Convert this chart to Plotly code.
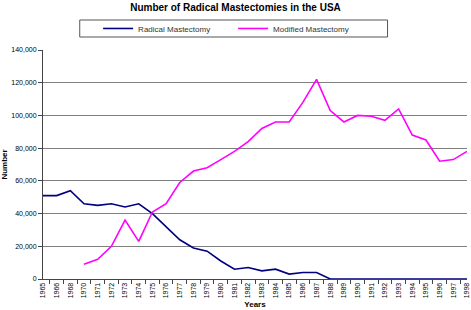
import plotly.graph_objects as go

years = ["1965", "1966", "1968", "1970", "1971", "1972", "1973", "1974", "1975", "1976",
         "1977", "1978", "1979", "1980", "1981", "1982", "1983", "1984", "1985", "1986",
         "1987", "1988", "1989", "1990", "1991", "1992", "1993", "1994", "1995", "1996",
         "1997", "1998"]

radical = [51000, 51000, 54000, 46000, 45000, 46000, 44000, 46000, 40000, 32000,
           24000, 19000, 17000, 11000, 6000, 7000, 5000, 6000, 3000, 4000,
           4000, 0, 0, 0, 0, 0, 0, 0, 0, 0,
           0, 0]

modified = [None, None, None, 9000, 12000, 20000, 36000, 23000, 41000, 46000,
            59000, 66000, 68000, 73000, 78000, 84000, 92000, 96000, 96000, 108000,
            122000, 103000, 96000, 100000, 99500, 97000, 104000, 88000, 85000, 72000,
            73000, 78000]

y_ticks = [0, 20000, 40000, 60000, 80000, 100000, 120000, 140000]

FONT = "Liberation Sans, Arial, sans-serif"

fig = go.Figure()
fig.add_trace(go.Scatter(x=years, y=radical, mode="lines", name="Radical Mastectomy",
                         line=dict(color="#000080", width=1.6)))
fig.add_trace(go.Scatter(x=years, y=modified, mode="lines", name="Modified Mastectomy",
                         line=dict(color="#FF00FF", width=1.6), connectgaps=False))

fig.update_layout(
    width=471, height=310,
    margin=dict(l=43, r=1, t=50, b=31),
    paper_bgcolor="white", plot_bgcolor="white",
    font=dict(family=FONT, color="#000000", size=7),
    title=dict(text="<b>Number of Radical Mastectomies in the USA</b>",
               font=dict(size=10, family=FONT), x=0.5, xanchor="center",
               y=0.975, yanchor="middle"),
    showlegend=True,
    legend=dict(orientation="h", x=0.13, xanchor="left", y=1.094, yanchor="middle",
                font=dict(size=8, family=FONT, color="#333333"),
                bgcolor="rgba(0,0,0,0)", itemwidth=30, entrywidth=90,
                entrywidthmode="pixels", tracegroupgap=0),
    shapes=[dict(type="rect", xref="paper", yref="paper",
                 x0=(80 - 43) / 427, x1=(390 - 43) / 427,
                 y0=1 + (50 - 37) / 229, y1=1 + (50 - 20) / 229,
                 line=dict(color="#555555", width=1), fillcolor="rgba(0,0,0,0)")],
)

fig.update_xaxes(type="category", tickson="boundaries", ticks="outside", ticklen=4,
                 tickcolor="#444444", tickangle=-90, showline=True, linecolor="#444444",
                 linewidth=1, showgrid=False, tickfont=dict(size=7, family=FONT),
                 title=dict(text="<b>Years</b>", font=dict(size=8, family=FONT), standoff=4))

fig.update_yaxes(range=[0, 140000], tickvals=y_ticks, tickformat=",", ticks="outside",
                 ticklen=4, tickcolor="#444444", showline=True, linecolor="#444444",
                 linewidth=1, showgrid=True, gridcolor="#808080", gridwidth=1,
                 zeroline=False, tickfont=dict(size=7, family=FONT),
                 title=dict(text="<b>Number</b>", font=dict(size=8, family=FONT), standoff=4))

fig.write_html("out.html", config={"displayModeBar": False},
               post_script="document.body.style.margin='0px';document.body.style.overflow='hidden';")
